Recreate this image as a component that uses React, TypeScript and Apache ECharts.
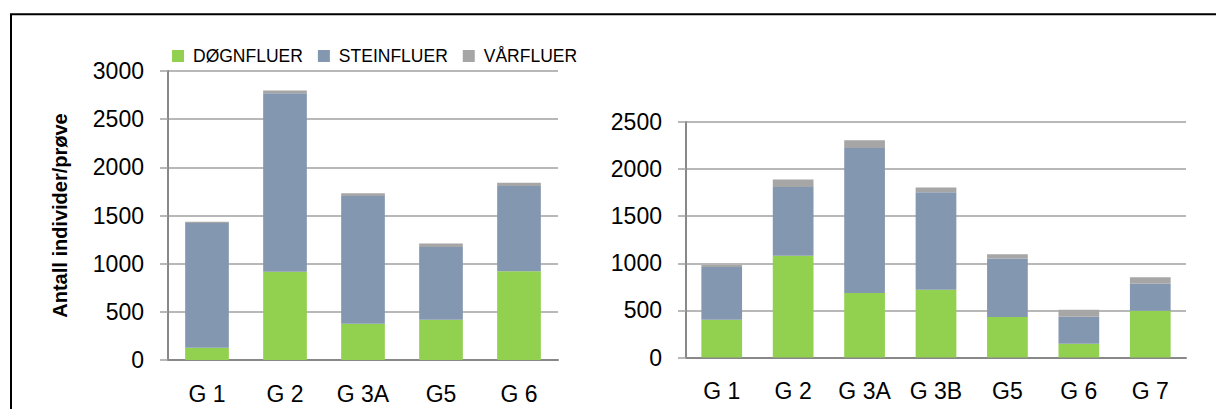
import React, { useEffect, useRef } from "react";
import * as echarts from "echarts";

const leftCats = ["G 1", "G 2", "G 3A", "G5", "G 6"];
const leftDogn = [128, 915, 376, 418, 922];
const leftStein = [1295, 1855, 1326, 756, 884];
const leftVar = [13, 28, 28, 35, 34];

const rightCats = ["G 1", "G 2", "G 3A", "G 3B", "G5", "G 6", "G 7"];
const rightDogn = [400, 1080, 685, 720, 430, 145, 495];
const rightStein = [562, 730, 1540, 1035, 620, 287, 287];
const rightVar = [21, 80, 80, 50, 45, 74, 71];

const seriesNames = ["DØGNFLUER", "STEINFLUER", "VÅRFLUER"];
const colors = ["#92D050", "#8497B0", "#A6A6A6"];

const FONT = "Liberation Sans";

export default function App() {
  const ref = useRef<HTMLDivElement>(null);
  useEffect(() => {
    if (!ref.current) return;
    const chart = echarts.init(ref.current, null, { renderer: "svg" });
    const axisLineStyle = { color: "#888888", width: 2 };
    const gridLine = { color: "#A0A0A0", width: 1.5 };
    const xAxisCommon = {
      type: "category" as const,
      axisLine: { lineStyle: axisLineStyle },
      axisTick: { show: false },
      axisLabel: { color: "#000", fontFamily: FONT, fontSize: 23, lineHeight: 23, margin: 22 },
    };
    const yAxisCommon = {
      type: "value" as const,
      min: 0,
      interval: 500,
      axisLine: { show: true, lineStyle: axisLineStyle },
      axisTick: { show: true, length: 8, lineStyle: gridLine },
      splitLine: { lineStyle: gridLine },
      axisLabel: {
        color: "#000",
        fontFamily: FONT,
        fontSize: 23,
        margin: 24,
        formatter: (v: number) => String(v),
      },
    };
    const mk = (name: string, data: number[], idx: number, color: string, stack: string) => ({
      name,
      type: "bar" as const,
      stack,
      xAxisIndex: idx,
      yAxisIndex: idx,
      data,
      barWidth: idx === 0 ? "56%" : "57%",
      itemStyle: { color },
    });
    chart.setOption({
      animation: false,
      backgroundColor: "#ffffff",
      legend: {
        left: 172,
        top: 47,
        padding: 0,
        itemWidth: 12,
        itemHeight: 12,
        itemGap: 15,
        icon: "rect",
        data: seriesNames,
        textStyle: { color: "#000", fontFamily: FONT, fontSize: 17.5, padding: [0, 0, 0, 4] },
      },
      grid: [
        { left: 168, right: 658, top: 71, bottom: 49 },
        { left: 686, right: 30, top: 122, bottom: 51.5 },
      ],
      xAxis: [
        { ...xAxisCommon, gridIndex: 0, data: leftCats },
        { ...xAxisCommon, gridIndex: 1, data: rightCats },
      ],
      yAxis: [
        {
          ...yAxisCommon,
          gridIndex: 0,
          max: 3000,
          name: "Antall individer/prøve",
          nameLocation: "middle",
          nameGap: 98,
          nameTextStyle: { color: "#000", fontFamily: FONT, fontSize: 20, fontWeight: "bold" },
        },
        { ...yAxisCommon, gridIndex: 1, max: 2500 },
      ],
      series: [
        mk(seriesNames[0], leftDogn, 0, colors[0], "L"),
        mk(seriesNames[1], leftStein, 0, colors[1], "L"),
        mk(seriesNames[2], leftVar, 0, colors[2], "L"),
        mk(seriesNames[0], rightDogn, 1, colors[0], "R"),
        mk(seriesNames[1], rightStein, 1, colors[1], "R"),
        mk(seriesNames[2], rightVar, 1, colors[2], "R"),
      ],
      graphic: [
        {
          type: "polyline",
          shape: { points: [[11, 409], [11, 14.3], [1216, 14.3]] },
          style: { stroke: "#000", lineWidth: 2, fill: "none" },
        },
      ],
    });
    return () => chart.dispose();
  }, []);
  return (
    <div
      ref={ref}
      style={{ position: "fixed", left: 0, top: 0, width: 1216, height: 409 }}
    />
  );
}
